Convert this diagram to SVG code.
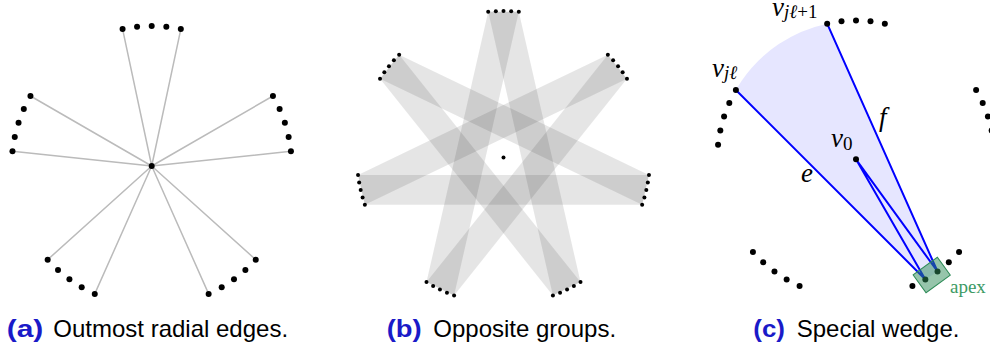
<svg xmlns="http://www.w3.org/2000/svg" width="990" height="349" viewBox="0 0 990 349">
<style>
.dot{fill:#000}
.ga{stroke:#bbbbbb;stroke-width:1.5;fill:none}
.band{fill:#000;fill-opacity:0.1;stroke:none}
.bl{stroke:#0000ff;stroke-width:2;fill:none}
.math{font-family:"Liberation Serif","DejaVu Serif",serif;font-style:italic;fill:#000}
.up{font-style:normal}
.cap{font-family:"Liberation Sans",Arial,sans-serif;font-size:24px;fill:#000}
.lab{font-family:"Liberation Sans",Arial,sans-serif;font-size:24px;font-weight:bold;fill:#1a1ac8}
</style>
<rect width="990" height="349" fill="#fff"/>

<!-- Panel (a) -->
<g id="a-edges">
<path class="ga" d="M151.7,166L290.93,151.37M151.7,166L272.94,96M151.7,166L180.81,29.06M151.7,166L122.59,29.06M151.7,166L30.46,96M151.7,166L12.47,151.37M151.7,166L47.66,259.68M151.7,166L94.76,293.9M151.7,166L208.64,293.9M151.7,166L255.74,259.68"/>
</g>
<g id="a-center"><circle class="dot" cx="151.7" cy="166" r="3"/></g>
<g id="a-right"><circle class="dot" cx="290.93" cy="151.37" r="3"/><circle class="dot" cx="288.64" cy="136.89" r="3"/><circle class="dot" cx="284.85" cy="122.74" r="3"/><circle class="dot" cx="279.6" cy="109.06" r="3"/><circle class="dot" cx="272.94" cy="96" r="3"/></g>
<g id="a-top"><circle class="dot" cx="180.81" cy="29.06" r="3"/><circle class="dot" cx="166.33" cy="26.77" r="3"/><circle class="dot" cx="151.7" cy="26" r="3"/><circle class="dot" cx="137.07" cy="26.77" r="3"/><circle class="dot" cx="122.59" cy="29.06" r="3"/></g>
<g id="a-left"><circle class="dot" cx="30.46" cy="96" r="3"/><circle class="dot" cx="23.8" cy="109.06" r="3"/><circle class="dot" cx="18.55" cy="122.74" r="3"/><circle class="dot" cx="14.76" cy="136.89" r="3"/><circle class="dot" cx="12.47" cy="151.37" r="3"/></g>
<g id="a-bottomleft"><circle class="dot" cx="47.66" cy="259.68" r="3"/><circle class="dot" cx="58.02" cy="270.04" r="3"/><circle class="dot" cx="69.41" cy="279.26" r="3"/><circle class="dot" cx="81.7" cy="287.24" r="3"/><circle class="dot" cx="94.76" cy="293.9" r="3"/></g>
<g id="a-bottomright"><circle class="dot" cx="208.64" cy="293.9" r="3"/><circle class="dot" cx="221.7" cy="287.24" r="3"/><circle class="dot" cx="233.99" cy="279.26" r="3"/><circle class="dot" cx="245.38" cy="270.04" r="3"/><circle class="dot" cx="255.74" cy="259.68" r="3"/></g>

<!-- Panel (b) -->
<g id="b-bands">
<polygon class="band" points="518.81,11.8 488.19,11.8 426.48,282.12 454.09,295.42"/>
<polygon class="band" points="399.14,54.69 380.03,78.66 552.91,295.42 580.52,282.12"/>
<polygon class="band" points="358.05,174.99 364.86,204.85 642.14,204.85 648.95,174.99"/>
<polygon class="band" points="426.48,282.12 454.09,295.42 626.97,78.66 607.86,54.69"/>
<polygon class="band" points="552.91,295.42 580.52,282.12 518.81,11.8 488.19,11.8"/>
<polygon class="band" points="642.14,204.85 648.95,174.99 399.14,54.69 380.03,78.66"/>
<polygon class="band" points="626.97,78.66 607.86,54.69 358.05,174.99 364.86,204.85"/>
</g>
<g id="b-center"><circle class="dot" cx="503.5" cy="157.5" r="2"/></g>
<g id="b-g0"><circle class="dot" cx="518.81" cy="11.8" r="2"/><circle class="dot" cx="511.17" cy="11.2" r="2"/><circle class="dot" cx="503.5" cy="11" r="2"/><circle class="dot" cx="495.83" cy="11.2" r="2"/><circle class="dot" cx="488.19" cy="11.8" r="2"/></g>
<g id="b-g1"><circle class="dot" cx="399.14" cy="54.69" r="2"/><circle class="dot" cx="393.9" cy="60.29" r="2"/><circle class="dot" cx="388.96" cy="66.16" r="2"/><circle class="dot" cx="384.34" cy="72.28" r="2"/><circle class="dot" cx="380.03" cy="78.66" r="2"/></g>
<g id="b-g2"><circle class="dot" cx="358.05" cy="174.99" r="2"/><circle class="dot" cx="359.16" cy="182.58" r="2"/><circle class="dot" cx="360.67" cy="190.1" r="2"/><circle class="dot" cx="362.58" cy="197.53" r="2"/><circle class="dot" cx="364.86" cy="204.85" r="2"/></g>
<g id="b-g3"><circle class="dot" cx="426.48" cy="282.12" r="2"/><circle class="dot" cx="433.12" cy="285.99" r="2"/><circle class="dot" cx="439.94" cy="289.49" r="2"/><circle class="dot" cx="446.94" cy="292.64" r="2"/><circle class="dot" cx="454.09" cy="295.42" r="2"/></g>
<g id="b-g4"><circle class="dot" cx="552.91" cy="295.42" r="2"/><circle class="dot" cx="560.06" cy="292.64" r="2"/><circle class="dot" cx="567.06" cy="289.49" r="2"/><circle class="dot" cx="573.88" cy="285.99" r="2"/><circle class="dot" cx="580.52" cy="282.12" r="2"/></g>
<g id="b-g5"><circle class="dot" cx="642.14" cy="204.85" r="2"/><circle class="dot" cx="644.42" cy="197.53" r="2"/><circle class="dot" cx="646.33" cy="190.1" r="2"/><circle class="dot" cx="647.84" cy="182.58" r="2"/><circle class="dot" cx="648.95" cy="174.99" r="2"/></g>
<g id="b-g6"><circle class="dot" cx="626.97" cy="78.66" r="2"/><circle class="dot" cx="622.66" cy="72.28" r="2"/><circle class="dot" cx="618.04" cy="66.16" r="2"/><circle class="dot" cx="613.1" cy="60.29" r="2"/><circle class="dot" cx="607.86" cy="54.69" r="2"/></g>

<!-- Panel (c) -->
<g id="c-wedge"><path d="M925.35,279.42L735.88,89.95L741.5,81A138.7,138.7 0 0 1 827.16,23.63L937.53,271.51Z" fill="#e6e6ff"/></g>
<g id="c-edges">
<path class="bl" d="M735.88,89.95L925.35,279.42M827.16,23.63L937.53,271.51M856,159.3L925.35,279.42M856,159.3L937.53,271.51"/>
</g>
<g id="c-v0"><circle class="dot" cx="856" cy="159.3" r="3"/></g>
<g id="c-right"><circle class="dot" cx="993.94" cy="144.8" r="3"/><circle class="dot" cx="991.67" cy="130.46" r="3"/><circle class="dot" cx="987.91" cy="116.44" r="3"/><circle class="dot" cx="982.71" cy="102.89" r="3"/><circle class="dot" cx="976.12" cy="89.95" r="3"/></g>
<g id="c-top"><circle class="dot" cx="884.84" cy="23.63" r="3"/><circle class="dot" cx="870.5" cy="21.36" r="3"/><circle class="dot" cx="856" cy="20.6" r="3"/><circle class="dot" cx="841.5" cy="21.36" r="3"/><circle class="dot" cx="827.16" cy="23.63" r="3"/></g>
<g id="c-left"><circle class="dot" cx="735.88" cy="89.95" r="3"/><circle class="dot" cx="729.29" cy="102.89" r="3"/><circle class="dot" cx="724.09" cy="116.44" r="3"/><circle class="dot" cx="720.33" cy="130.46" r="3"/><circle class="dot" cx="718.06" cy="144.8" r="3"/></g>
<g id="c-bottomleft"><circle class="dot" cx="752.93" cy="252.11" r="3"/><circle class="dot" cx="763.19" cy="262.37" r="3"/><circle class="dot" cx="774.47" cy="271.51" r="3"/><circle class="dot" cx="786.65" cy="279.42" r="3"/><circle class="dot" cx="799.59" cy="286.01" r="3"/></g>
<g id="c-bottomright"><circle class="dot" cx="912.41" cy="286.01" r="3"/><circle class="dot" cx="925.35" cy="279.42" r="3"/><circle class="dot" cx="937.53" cy="271.51" r="3"/><circle class="dot" cx="948.81" cy="262.37" r="3"/><circle class="dot" cx="959.07" cy="252.11" r="3"/></g>
<g id="c-apex">
<rect x="-15" y="-11" width="30" height="22" transform="translate(931.7,275) rotate(-36)" fill="#2e8b57" fill-opacity="0.5" stroke="#2e8b57" stroke-width="1"/>
<text x="950" y="293" font-family="Liberation Serif,DejaVu Serif,serif" font-size="19" fill="#3c9a64">apex</text>
</g>
<g id="c-labels">
<text class="math" x="772" y="16" font-size="27">v<tspan font-size="19" dy="2">jℓ</tspan><tspan class="up" font-size="19">+1</tspan></text>
<text class="math" x="712" y="77" font-size="27">v<tspan font-size="19" dy="2">jℓ</tspan></text>
<text class="math" x="831" y="147" font-size="27">v<tspan class="up" font-size="19" dy="2.5">0</tspan></text>
<text class="math" x="879" y="126" font-size="27">f</text>
<text class="math" x="801" y="182" font-size="27">e</text>
</g>

<!-- Captions -->
<g id="captions">
<text class="lab" x="6.7" y="337" textLength="36.6" lengthAdjust="spacingAndGlyphs">(a)</text>
<text class="cap" x="53.3" y="337">Outmost radial edges.</text>
<text class="lab" x="386.7" y="337" textLength="35" lengthAdjust="spacingAndGlyphs">(b)</text>
<text class="cap" x="433.3" y="337">Opposite groups.</text>
<text class="lab" x="753.3" y="337" textLength="31.7" lengthAdjust="spacingAndGlyphs">(c)</text>
<text class="cap" x="796.7" y="337">Special wedge.</text>
</g>
</svg>
